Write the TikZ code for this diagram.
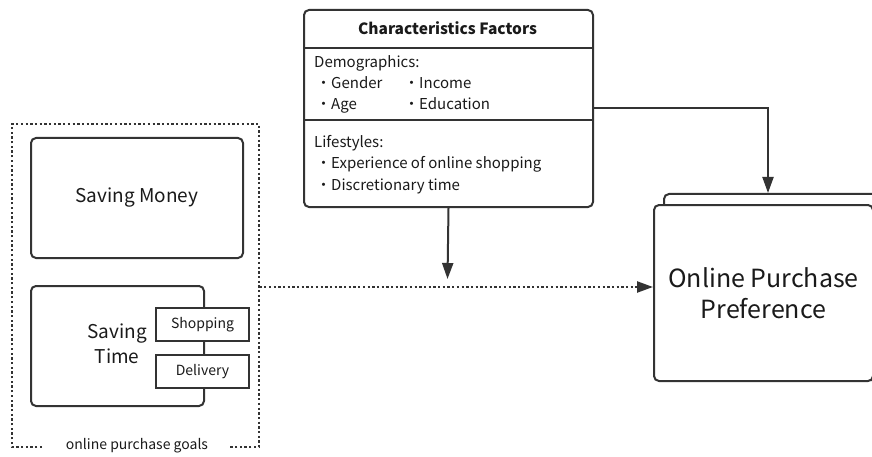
\documentclass[tikz,border=0pt]{standalone}
\usepackage{fontspec}
\setmainfont{Noto Sans CJK JP}
\usetikzlibrary{arrows.meta}
\definecolor{ln}{HTML}{333333}
\definecolor{tx}{HTML}{1a1a1a}
\tikzset{
  box/.style={draw=ln, line width=2pt, rounded corners=5pt, fill=white},
  sbox/.style={draw=ln, line width=2pt, fill=white},
  lbl/.style={inner sep=0pt, anchor=base west, font=\fontsize{15}{18}\selectfont, text=tx},
  arr/.style={draw=ln, line width=2pt, -{Triangle[length=16pt,width=11pt]}},
  dots/.style={draw=ln, line width=2.3pt, dash pattern=on 2.3pt off 2.4pt},
}
\begin{document}
\begin{tikzpicture}[x=1pt,y=-1pt, text=tx]
\useasboundingbox (0,0) rectangle (872,457);
% goals container
\node[inner sep=0pt, minimum width=247pt, minimum height=323pt, anchor=north west] (goals) at (12,124) {};
\draw[dots] (42,447) -- (12,447) -- (12,124) -- (259,124) -- (259,447) -- (230,447);
\node[inner sep=0pt, font=\fontsize{14}{16}\selectfont] (goalslbl) at (137,446) {online purchase goals};
% saving money
\node[box, minimum width=212pt, minimum height=120pt, anchor=north west, font=\fontsize{19}{22}\selectfont] (money) at (30,137) {Saving Money};
% saving time
\node[box, minimum width=173pt, minimum height=120pt, anchor=north west] (time) at (30,285) {};
\node[align=center, inner sep=0pt, font=\fontsize{19}{25}\selectfont] (timelbl) at (117,344) {Saving\\Time};
\node[sbox, minimum width=93pt, minimum height=33pt, anchor=north west, inner sep=0pt, font=\fontsize{14}{16}\selectfont] (shop) at (155,307) {Shopping};
\node[sbox, minimum width=93pt, minimum height=33pt, anchor=north west, inner sep=0pt, font=\fontsize{14}{16}\selectfont] (deliv) at (155,354) {Delivery};
% characteristics
\node[box, minimum width=289pt, minimum height=197pt, anchor=north west] (cf) at (303,9) {};
\draw[draw=ln, line width=2pt] (cf.west |- 0,48) -- (cf.east |- 0,48);
\draw[draw=ln, line width=2pt] (cf.west |- 0,120) -- (cf.east |- 0,120);
\node[inner sep=0pt, font=\fontsize{15.5}{18}\selectfont\bfseries] (cftitle) at (447.5,28) {Characteristics Factors};
\node[lbl] (demo) at (314,68) {Demographics:};
\node[lbl] (gender) at (316,89) {・Gender};
\node[lbl] (income) at (404,89) {・Income};
\node[lbl] (age) at (316,110) {・Age};
\node[lbl] (edu) at (404,110) {・Education};
\node[lbl] (life) at (314,148) {Lifestyles:};
\node[lbl] (exp) at (316,169) {・Experience of online shopping};
\node[lbl] (disc) at (316,190) {・Discretionary time};
% online purchase preference
\node[box, minimum width=220pt, minimum height=186pt, anchor=north west] (oppback) at (663,193) {};
\node[box, minimum width=219pt, minimum height=176pt, anchor=north west, align=center, font=\fontsize{25}{31}\selectfont] (opp) at (653,204) {Online Purchase\\Preference};
% connectors
\coordinate (cfend) at (447.5,279);
\draw[arr] (cf.south) -- (cfend);
\draw[arr] (cf.east |- 0,108) -- (768,108) -- (768,193);
\draw[dots, -{Triangle[length=16pt,width=11pt]}] (goals.east |- 0,287) -- (opp.west |- 0,287);
\end{tikzpicture}
\end{document}
